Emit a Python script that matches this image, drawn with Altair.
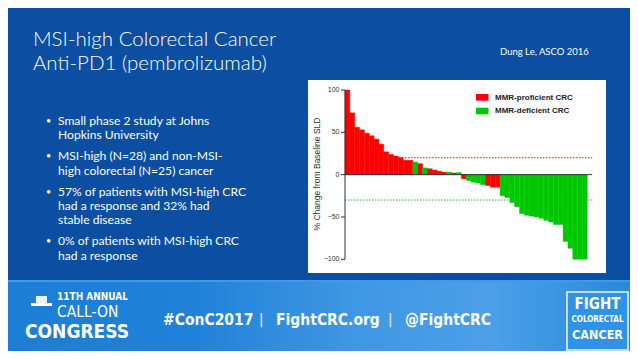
import altair as alt
import pandas as pd

# ---------------- data ----------------
change = [100, 73, 56, 53, 49, 46, 42, 36, 27, 24, 22, 20, 17, 17,
          15, 13, 8, 7, 5.5, 4, 3, 3, 2, 2.5,
          -5, -7, -9, -10, -12, -13, -15, -15,
          -25, -27, -33, -38, -46, -48, -49, -50, -51.5, -54, -56, -59, -59,
          -79, -87, -100, -100, -100]
group = (["MMR-proficient CRC"] * 14 +
         ["MMR-deficient CRC", "MMR-proficient CRC", "MMR-deficient CRC"] +
         ["MMR-proficient CRC"] * 4 +
         ["MMR-deficient CRC", "MMR-proficient CRC", "MMR-deficient CRC", "MMR-proficient CRC"] +
         ["MMR-deficient CRC"] * 4 +
         ["MMR-proficient CRC"] * 3 +
         ["MMR-deficient CRC"] * 18)
legend_labels = ["MMR-proficient CRC", "MMR-deficient CRC"]
legend_colors = ["#ff0000", "#00c800"]
y_ticks = [100, 50, 0, -50, -100]
ref_lines = [20, -30]

title_lines = ["MSI-high Colorectal Cancer", "Anti-PD1 (pembrolizumab)"]
source = "Dung Le, ASCO 2016"
bullets = [
    ["Small phase 2 study at Johns", "Hopkins University"],
    ["MSI-high  (N=28) and non-MSI-", "high colorectal (N=25) cancer"],
    ["57% of patients with MSI-high CRC", "had a response and 32% had", "stable disease"],
    ["0% of patients with MSI-high CRC", "had a response"],
]
banner_items = ["#ConC2017", "|", "FightCRC.org", "|", "@FightCRC"]

# ---------------- layout ----------------
W, H = 622, 343
OFFX, OFFY = 8, 8
NARROW = "'DejaVu Sans Condensed', 'Roboto', sans-serif"
one = pd.DataFrame({"a": [0]})

df = pd.DataFrame({"idx": list(range(len(change))), "change": change, "group": group})
df["idx2"] = df["idx"] + 1
df["zero"] = 0

xs = alt.Scale(domain=[0, 50], range=[345 - OFFX, 587.3 - OFFX], nice=False, zero=False)
ys = alt.Scale(domain=[-100, 100], range=[259.3 - OFFY, 90 - OFFY], nice=False, zero=False)
cs = alt.Scale(domain=legend_labels, range=legend_colors)


def txt(s, x, y, size, color="white", font="Lato", weight="normal", align="left",
        baseline="middle", angle=0):
    return alt.Chart(one).mark_text(
        text=s, fontSize=size, font=font, fontWeight=weight, color=color,
        align=align, baseline=baseline, angle=angle
    ).encode(x=alt.value(x - OFFX), y=alt.value(y - OFFY))


def box(x1, x2, y1, y2, color, **kw):
    # keep every mark inside the chart bounds so autosize does not shift the view
    cx1 = max(x1 - OFFX, 0)
    cx2 = min(x2 - OFFX, W)
    cy1 = max(y1 - OFFY, 0)
    cy2 = min(y2 - OFFY, H)
    return alt.Chart(one).mark_rect(color=color, **kw).encode(
        x=alt.value(cx1), x2=alt.value(cx2), y=alt.value(cy1), y2=alt.value(cy2))


layers = []
# white chart panel
layers.append(box(308, 606, 80, 273, "white"))

# bars
layers.append(alt.Chart(df).mark_rect(strokeWidth=0.4).encode(
    x=alt.X("idx:Q", scale=xs, axis=None),
    x2="idx2:Q",
    y=alt.Y("change:Q", scale=ys, axis=None),
    y2="zero:Q",
    color=alt.Color("group:N", scale=cs, legend=None),
    stroke=alt.Stroke("group:N", scale=cs, legend=None),
))

# reference lines
rl = pd.DataFrame({"y": ref_lines, "x": [0, 0], "x2": [51, 51], "c": ["r", "g"]})
layers.append(alt.Chart(rl).mark_rule(strokeDash=[1.5, 1.5], strokeWidth=0.9).encode(
    x=alt.X("x:Q", scale=xs, axis=None), x2="x2:Q",
    y=alt.Y("y:Q", scale=ys, axis=None),
    color=alt.Color("c:N", scale=alt.Scale(domain=["r", "g"], range=["#f08080", "#9a9a9a"]), legend=None),
))

# zero line and y-axis line
zl = pd.DataFrame({"x": [0], "x2": [51], "y": [0]})
layers.append(alt.Chart(zl).mark_rule(color="#333333", strokeWidth=1).encode(
    x=alt.X("x:Q", scale=xs, axis=None), x2="x2:Q", y=alt.Y("y:Q", scale=ys, axis=None)))
al = pd.DataFrame({"x": [0], "y": [-100], "y2": [100]})
layers.append(alt.Chart(al).mark_rule(color="#333333", strokeWidth=1).encode(
    x=alt.X("x:Q", scale=xs, axis=None), y=alt.Y("y:Q", scale=ys, axis=None), y2="y2:Q"))

# ticks and labels
tk = pd.DataFrame({"t": y_ticks})
layers.append(alt.Chart(tk).mark_rule(color="#333333", strokeWidth=1).encode(
    x=alt.value(341 - OFFX), x2=alt.value(345 - OFFX), y=alt.Y("t:Q", scale=ys, axis=None)))
layers.append(alt.Chart(tk).mark_text(align="right", baseline="middle", fontSize=7,
                                      font="Liberation Sans", color="#333333").encode(
    x=alt.value(339.5 - OFFX), y=alt.Y("t:Q", scale=ys, axis=None), text="t:Q"))
layers.append(txt("% Change from Baseline SLD", 317, 174, 8.5, color="#333333",
                  font="Liberation Sans", align="center", angle=270))

# legend
layers.append(box(476, 488.5, 94, 100.7, legend_colors[0]))
layers.append(box(476, 488.5, 107.7, 114.3, legend_colors[1]))
layers.append(txt(legend_labels[0], 495, 97.5, 8, color="#222222", font="Liberation Sans", weight="bold"))
layers.append(txt(legend_labels[1], 495, 111, 8, color="#222222", font="Liberation Sans", weight="bold"))

# slide title and source
layers.append(txt(title_lines[0], 33, 46, 20.5, weight=300, baseline="alphabetic"))
layers.append(txt(title_lines[1], 33, 70, 20.5, weight=300, baseline="alphabetic"))
layers.append(txt(source, 500, 52, 9.5))

# bullets
bullet_y = [[121, 134.5], [156, 171], [192, 206, 220], [241, 256]]
for lines, ys_ in zip(bullets, bullet_y):
    layers.append(txt("•", 46, ys_[0], 9))
    for s, yy in zip(lines, ys_):
        layers.append(txt(s, 58, yy, 12.1))

# banner
grad = alt.Gradient(gradient="linear", x1=0, x2=1, y1=0, y2=0, stops=[
    alt.GradientStop(color="#1c7ed4", offset=0),
    alt.GradientStop(color="#1f82d8", offset=0.3),
    alt.GradientStop(color="#3f96e2", offset=0.55),
    alt.GradientStop(color="#4ba0e8", offset=0.78),
    alt.GradientStop(color="#2a88da", offset=1),
])
layers.append(box(0, 660, 281, 367, grad))
layers.append(box(0, 660, 280, 282, "#3f9be6"))

# banner text
bx = [163, 259, 276, 388, 405]
for s, x in zip(banner_items, bx):
    layers.append(txt(s, x, 320, 15.5 if s != "|" else 14, font=NARROW,
                      weight="bold", color="white" if s != "|" else "#cfe3f7"))

# left logo
layers.append(txt("11TH ANNUAL", 57, 297, 10, font=NARROW, weight="bold"))
layers.append(txt("CALL-ON", 57, 312, 15.5, font=NARROW, weight=300))
layers.append(txt("CONGRESS", 25, 332, 19, font=NARROW, weight="bold"))
layers.append(box(31, 52, 303, 306, "white"))
layers.append(box(36, 47, 296, 303, "white", opacity=0.9))

# right logo
layers.append(box(567, 628, 292, 350, "#2f92e4", stroke="#bfe0fb", strokeWidth=2))
layers.append(txt("FIGHT", 597.5, 303.5, 15, font=NARROW, weight="bold", align="center"))
layers.append(txt("COLORECTAL", 597.5, 320, 8, font=NARROW, weight="bold", align="center"))
layers.append(txt("CANCER", 597.5, 335, 12.5, font=NARROW, weight="bold", align="center"))

chart = alt.layer(*layers).properties(
    width=W, height=H, padding=0,
    autosize=alt.AutoSizeParams(type="fit", contains="padding"),
    background="#0b4ea2",
).configure_view(stroke=None)

chart.save("out.html", embed_options={"renderer": "svg", "actions": False})
